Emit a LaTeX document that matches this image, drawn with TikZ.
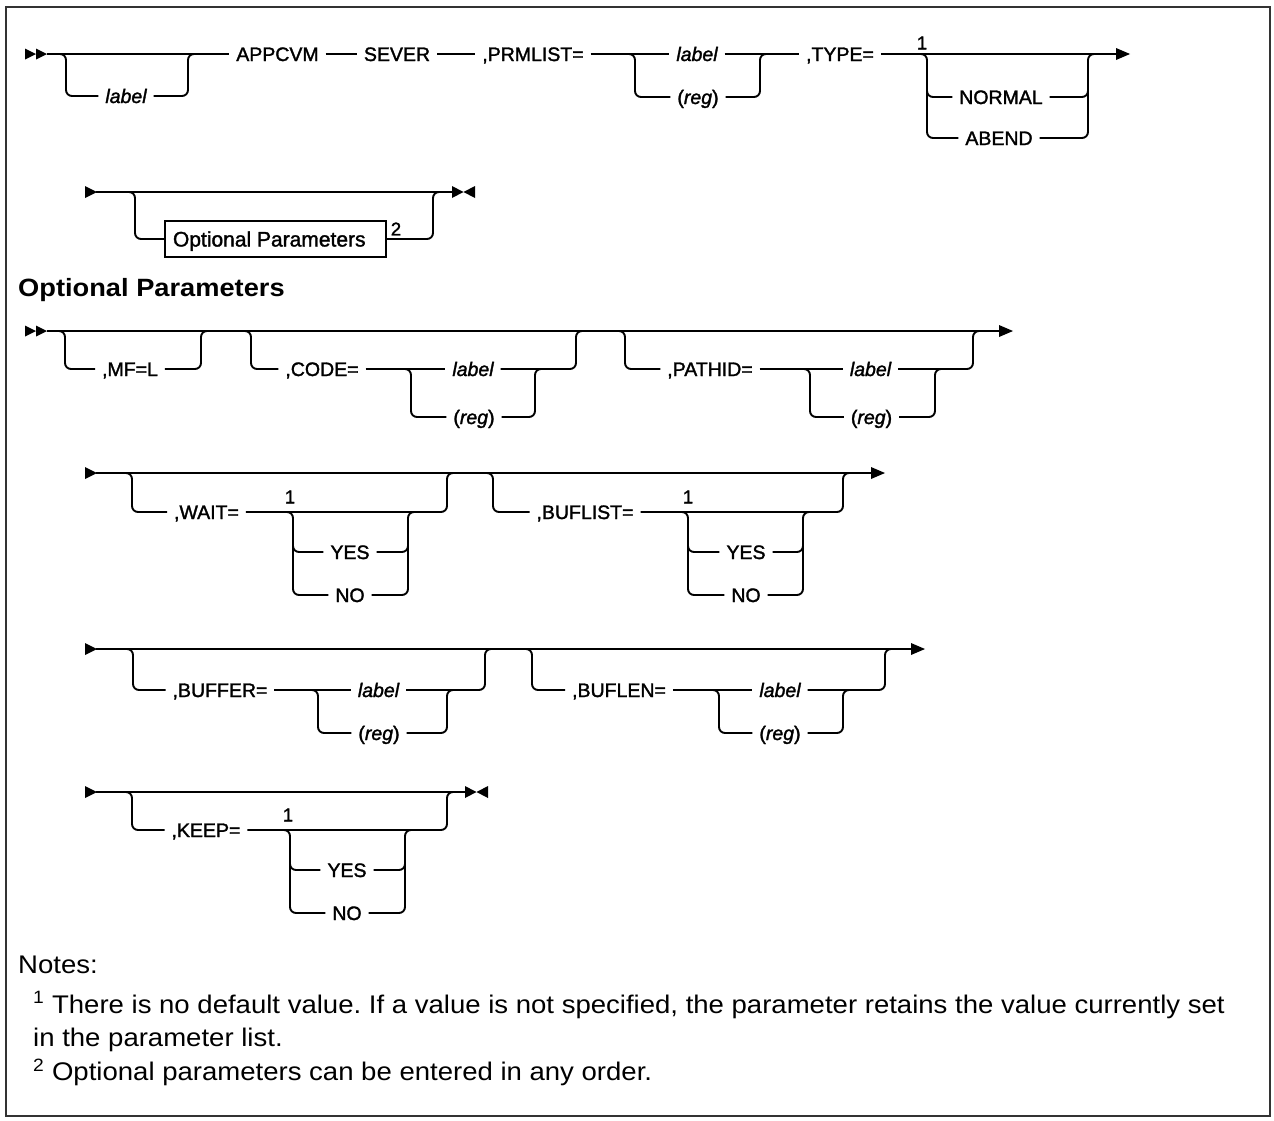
\documentclass[tikz,border=0pt]{standalone}
\usepackage{fontspec}
\setmainfont{Liberation Sans}
\newfontfamily\dfont[FakeBold=1.6]{Liberation Sans}
\newfontfamily\nfont[FakeStretch=1.08]{Liberation Sans}
\newfontfamily\hfont[FakeStretch=1.09]{Liberation Sans}
\newcommand\dsz{\dfont\fontsize{19.5pt}{23pt}\selectfont}
\newcommand\bsz{\dfont\fontsize{21pt}{25pt}\selectfont}
\newcommand\gsz{\dfont\fontsize{18.5pt}{20pt}\selectfont}
\newcommand\nsz{\nfont\fontsize{25.5pt}{30pt}\selectfont}
\newcommand\hsz{\hfont\bfseries\fontsize{25pt}{29pt}\selectfont}
\frenchspacing
\begin{document}
\begin{tikzpicture}[x=1pt,y=-1pt,
  ln/.style={line width=1.9pt, rounded corners=6pt},
  kw/.style={font=\dsz, inner sep=0pt, outer xsep=7pt, outer ysep=0pt, text height=14pt, text depth=0pt},
  var/.style={kw, font=\dsz\itshape},
  dig/.style={font=\gsz, inner sep=0pt},
  pbox/.style={draw, line width=1.5pt, font=\bsz, inner xsep=8pt, inner ysep=0pt, minimum height=36pt, outer sep=0pt, text height=15pt, text depth=0pt},
  txt/.style={anchor=west, inner sep=0pt}
]
\useasboundingbox (0,0) rectangle (1274,1120);
\draw[line width=2pt, draw=black!80] (6,7) rectangle (1270,1116);

% ---------------- Row 1 ----------------
\fill (25,48.5) -- (36,54) -- (25,59.5) -- cycle;
\fill (36,48.5) -- (47,54) -- (36,59.5) -- cycle;
\coordinate (r1s) at (47,54);
\node[var] (lab0) at (126,96) {label};
\node[kw] (appcvm) at (277.5,54) {APPCVM};
\node[kw] (sever) at (397,54) {SEVER};
\node[kw] (prml) at (533,54) {,PRMLIST=};
\node[var] (prlab) at (697,54) {label};
\node[kw] (prreg) at (698,97) {(\textit{reg})};
\node[kw] (type) at (840,54) {,TYPE=};
\node[dig] (t1) at (922,43) {1};
\node[kw] (normal) at (1001,97) {NORMAL};
\node[kw] (abend) at (999,138) {ABEND};
\coordinate (r1e) at (1117,54);
\draw[ln] (r1s) -- (appcvm.west);
\draw[ln] (58,54) -- (66,54) -- (66,96) -- (lab0.west);
\draw[ln] (lab0.east) -- (188,96) -- (188,54) -- (196,54);
\draw[ln] (appcvm.east) -- (sever.west);
\draw[ln] (sever.east) -- (prml.west);
\draw[ln] (prml.east) -- (prlab.west);
\draw[ln] (prlab.east) -- (type.west);
\draw[ln] (627,54) -- (635,54) -- (635,97) -- (prreg.west);
\draw[ln] (prreg.east) -- (760,97) -- (760,54) -- (768,54);
\draw[ln] (type.east) -- (r1e);
\fill (1116,48) -- (1130,54) -- (1116,60) -- cycle;
\draw[ln] (919,54) -- (927,54) -- (927,138) -- (abend.west);
\draw[ln] (927,90) -- (927,97) -- (normal.west);
\draw[ln] (normal.east) -- (1088,97) -- (1088,90);
\draw[ln] (abend.east) -- (1088,138) -- (1088,54) -- (1096,54);

% ---------------- Row 2 ----------------
\fill (85,186) -- (97,192) -- (85,198) -- cycle;
\coordinate (r2s) at (96,192);
\coordinate (r2e) at (452,192);
\node[pbox, anchor=west] (optbox) at (165,239) {\makebox[205pt][l]{Optional Parameters}};
\node[dig] (n2) at (396,229) {2};
\draw[ln] (r2s) -- (r2e);
\draw[ln] (127,192) -- (135,192) -- (135,239) -- (optbox.west);
\draw[ln] (optbox.east) -- (433,239) -- (433,192) -- (441,192);
\fill (452,186) -- (463.5,192) -- (452,198) -- cycle;
\fill (475,186) -- (463.5,192) -- (475,198) -- cycle;

% heading
\node[txt, font=\hsz] (opthead) at (18,290) {Optional Parameters};

% ---------------- Row 3 ----------------
\fill (25,325.5) -- (36,331) -- (25,336.5) -- cycle;
\fill (36,325.5) -- (47,331) -- (36,336.5) -- cycle;
\coordinate (r3s) at (47,331);
\coordinate (r3e) at (1000,331);
\draw[ln] (r3s) -- (r3e);
\fill (999,325) -- (1013,331) -- (999,337) -- cycle;
\node[kw] (mfl) at (130,369) {,MF=L};
\draw[ln] (57,331) -- (65,331) -- (65,369) -- (mfl.west);
\draw[ln] (mfl.east) -- (201,369) -- (201,331) -- (209,331);
\node[kw] (code) at (322,369) {,CODE=};
\node[var] (clab) at (473,369) {label};
\node[kw] (creg) at (474,417) {(\textit{reg})};
\draw[ln] (243,331) -- (251,331) -- (251,369) -- (code.west);
\draw[ln] (code.east) -- (clab.west);
\draw[ln] (clab.east) -- (576,369) -- (576,331) -- (584,331);
\draw[ln] (403,369) -- (411,369) -- (411,417) -- (creg.west);
\draw[ln] (creg.east) -- (535,417) -- (535,369) -- (543,369);
\node[kw] (path) at (710,369) {,PATHID=};
\node[var] (plab) at (870.5,369) {label};
\node[kw] (preg) at (871.5,417) {(\textit{reg})};
\draw[ln] (617,331) -- (625,331) -- (625,369) -- (path.west);
\draw[ln] (path.east) -- (plab.west);
\draw[ln] (plab.east) -- (973,369) -- (973,331) -- (981,331);
\draw[ln] (802,369) -- (810,369) -- (810,417) -- (preg.west);
\draw[ln] (preg.east) -- (935,417) -- (935,369) -- (943,369);

% ---------------- Row 4 ----------------
\fill (85,467) -- (97,473) -- (85,479) -- cycle;
\coordinate (r4s) at (96,473);
\coordinate (r4e) at (872,473);
\draw[ln] (r4s) -- (r4e);
\fill (871,467) -- (885,473) -- (871,479) -- cycle;
\node[kw] (wait) at (206.5,512) {,WAIT=};
\node[dig] (w1) at (290,497) {1};
\node[kw] (wyes) at (350,552) {YES};
\node[kw] (wno) at (350,595) {NO};
\draw[ln] (124,473) -- (132,473) -- (132,512) -- (wait.west);
\draw[ln] (wait.east) -- (447,512) -- (447,473) -- (455,473);
\draw[ln] (285,512) -- (293,512) -- (293,595) -- (wno.west);
\draw[ln] (293,545) -- (293,552) -- (wyes.west);
\draw[ln] (wyes.east) -- (408,552) -- (408,545);
\draw[ln] (wno.east) -- (408,595) -- (408,512) -- (416,512);
\node[kw] (bufl) at (585,512) {,BUFLIST=};
\node[dig] (b1) at (688,497) {1};
\node[kw] (byes) at (746,552) {YES};
\node[kw] (bno) at (746,595) {NO};
\draw[ln] (485,473) -- (493,473) -- (493,512) -- (bufl.west);
\draw[ln] (bufl.east) -- (843,512) -- (843,473) -- (851,473);
\draw[ln] (680,512) -- (688,512) -- (688,595) -- (bno.west);
\draw[ln] (688,545) -- (688,552) -- (byes.west);
\draw[ln] (byes.east) -- (803,552) -- (803,545);
\draw[ln] (bno.east) -- (803,595) -- (803,512) -- (811,512);

% ---------------- Row 5 ----------------
\fill (85,643) -- (97,649) -- (85,655) -- cycle;
\coordinate (r5s) at (96,649);
\coordinate (r5e) at (912,649);
\draw[ln] (r5s) -- (r5e);
\fill (911,643) -- (925,649) -- (911,655) -- cycle;
\node[kw] (buff) at (220,690) {,BUFFER=};
\node[var] (blab) at (378.5,690) {label};
\node[kw] (breg) at (379,733) {(\textit{reg})};
\draw[ln] (125,649) -- (133,649) -- (133,690) -- (buff.west);
\draw[ln] (buff.east) -- (blab.west);
\draw[ln] (blab.east) -- (485,690) -- (485,649) -- (493,649);
\draw[ln] (310,690) -- (318,690) -- (318,733) -- (breg.west);
\draw[ln] (breg.east) -- (447,733) -- (447,690) -- (455,690);
\node[kw] (blen) at (619,690) {,BUFLEN=};
\node[var] (bllab) at (780,690) {label};
\node[kw] (blreg) at (780,733) {(\textit{reg})};
\draw[ln] (524,649) -- (532,649) -- (532,690) -- (blen.west);
\draw[ln] (blen.east) -- (bllab.west);
\draw[ln] (bllab.east) -- (885,690) -- (885,649) -- (893,649);
\draw[ln] (711,690) -- (719,690) -- (719,733) -- (blreg.west);
\draw[ln] (blreg.east) -- (843,733) -- (843,690) -- (851,690);

% ---------------- Row 6 ----------------
\fill (85,786) -- (97,792) -- (85,798) -- cycle;
\coordinate (r6s) at (96,792);
\coordinate (r6e) at (465,792);
\draw[ln] (r6s) -- (r6e);
\fill (465,786) -- (476.5,792) -- (465,798) -- cycle;
\fill (488,786) -- (476.5,792) -- (488,798) -- cycle;
\node[kw] (keep) at (206,830) {,KEEP=};
\node[dig] (k1) at (288,815) {1};
\node[kw] (kyes) at (347,870) {YES};
\node[kw] (kno) at (347,913) {NO};
\draw[ln] (124,792) -- (132,792) -- (132,830) -- (keep.west);
\draw[ln] (keep.east) -- (447,830) -- (447,792) -- (455,792);
\draw[ln] (282,830) -- (290,830) -- (290,913) -- (kno.west);
\draw[ln] (290,863) -- (290,870) -- (kyes.west);
\draw[ln] (kyes.east) -- (405,870) -- (405,863);
\draw[ln] (kno.east) -- (405,913) -- (405,830) -- (413,830);

% ---------------- Notes ----------------
\node[txt, font=\nsz] (notes) at (18,965) {Notes:};
\node[txt, font=\nsz] (note1a) at (33,1005) {\textsuperscript{1} There is no default value. If a value is not specified, the parameter retains the value currently set};
\node[txt, font=\nsz] (note1b) at (33,1040) {in the parameter list.};
\node[txt, font=\nsz] (note2) at (33,1072) {\textsuperscript{2} Optional parameters can be entered in any order.};
\end{tikzpicture}
\end{document}
